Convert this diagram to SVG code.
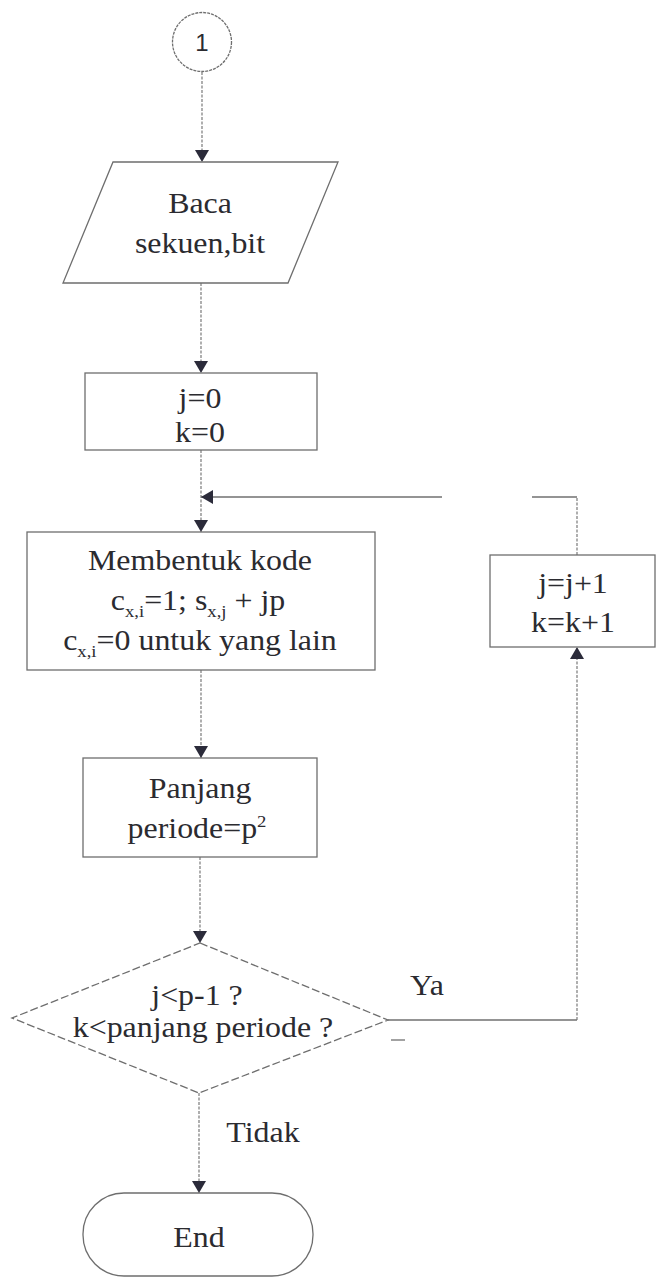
<svg xmlns="http://www.w3.org/2000/svg" width="657" height="1283" viewBox="0 0 657 1283">
  <style>
    .shape { fill: #ffffff; stroke: #6e6e6e; stroke-width: 1.3; }
    .dash { stroke-dasharray: 8 3; }
    .conn { fill: none; stroke: #7a7a7a; stroke-width: 1.2; stroke-dasharray: 3 1.5; }
    .line { fill: none; stroke: #707070; stroke-width: 1.3; }
    .t { font-family: "Liberation Serif", "Times New Roman", serif; font-size: 29px; fill: #2b2b30; text-anchor: middle; }
    .sub { font-size: 17px; }
    .num { font-family: "Liberation Sans", Arial, sans-serif; font-size: 24px; fill: #2b2b30; text-anchor: middle; }
  </style>
  <defs>
    <marker id="arrow" viewBox="0 0 12 14" refX="12" refY="7" markerWidth="12" markerHeight="14" markerUnits="userSpaceOnUse" orient="auto">
      <path d="M0 0 L12 7 L0 14 Z" fill="#2b2b3a"/>
    </marker>
  </defs>

  <rect width="657" height="1283" fill="#ffffff"/>

  <!-- connectors -->
  <g id="connectors">
    <path class="conn" d="M202 72 V162" marker-end="url(#arrow)"/>
    <path class="conn" d="M201 283 V373" marker-end="url(#arrow)"/>
    <path class="conn" d="M201 450 V532" marker-end="url(#arrow)"/>
    <path class="conn" d="M201 670 V758" marker-end="url(#arrow)"/>
    <path class="conn" d="M200 857 V943" marker-end="url(#arrow)"/>
    <path class="conn" d="M199 1093 V1193" marker-end="url(#arrow)"/>
    <!-- loop back: decision "Ya" up to increment box, then back into the main flow -->
    <path class="line" d="M388 1020 H577"/>
    <path class="conn" d="M577 1020 V647" marker-end="url(#arrow)"/>
    <path class="conn" d="M577 555 V497"/>
    <path class="line" d="M577 497 H532"/>
    <path class="line" d="M442 497 H201" marker-end="url(#arrow)"/>
    <path class="line" d="M391 1040 H405"/>
  </g>

  <!-- connector 1 -->
  <g id="start">
    <circle class="shape" cx="202" cy="42" r="29.5" stroke-dasharray="3 1"/>
    <text class="num" x="202" y="51">1</text>
  </g>

  <!-- input: Baca sekuen,bit -->
  <g id="input">
    <path class="shape" d="M113 162 H338 L288 283 H63 Z"/>
    <text class="t" transform="translate(200 213) scale(1.1 1)">Baca</text>
    <text class="t" transform="translate(200 253) scale(1.1 1)">sekuen,bit</text>
  </g>

  <!-- init j, k -->
  <g id="init">
    <rect class="shape" x="85" y="373" width="232" height="77"/>
    <text class="t" transform="translate(200 408) scale(1.1 1)">j=0</text>
    <text class="t" transform="translate(200 442) scale(1.1 1)">k=0</text>
  </g>

  <!-- build code -->
  <g id="build">
    <rect class="shape" x="27" y="532" width="348" height="138"/>
    <text class="t" transform="translate(200 570) scale(1.1 1)">Membentuk kode</text>
    <text class="t" transform="translate(198 610) scale(1.1 1)">c<tspan class="sub" dy="7">x,i</tspan><tspan dy="-7">=1; s</tspan><tspan class="sub" dy="7">x,j</tspan><tspan dy="-7"> + jp</tspan></text>
    <text class="t" transform="translate(200 650) scale(1.1 1)">c<tspan class="sub" dy="7">x,i</tspan><tspan dy="-7">=0 untuk yang lain</tspan></text>
  </g>

  <!-- period length -->
  <g id="period">
    <rect class="shape" x="83" y="758" width="234" height="99"/>
    <text class="t" transform="translate(200 798) scale(1.1 1)">Panjang</text>
    <text class="t" transform="translate(197 838) scale(1.1 1)">periode=p<tspan class="sub" dy="-11">2</tspan></text>
  </g>

  <!-- decision -->
  <g id="decision">
    <path class="shape dash" d="M200 943 L388 1020 L199 1093 L12 1018 Z"/>
    <text class="t" transform="translate(197 1005) scale(1.1 1)">j&lt;p-1 ?</text>
    <text class="t" transform="translate(203 1037) scale(1.1 1)">k&lt;panjang periode ?</text>
    <text class="t" transform="translate(427 995) scale(1.1 1)">Ya</text>
    <text class="t" transform="translate(263 1142) scale(1.1 1)">Tidak</text>
  </g>

  <!-- increment j, k -->
  <g id="increment">
    <rect class="shape" x="490" y="555" width="165" height="92"/>
    <text class="t" transform="translate(573 593) scale(1.1 1)">j=j+1</text>
    <text class="t" transform="translate(573 632) scale(1.1 1)">k=k+1</text>
  </g>

  <!-- terminator -->
  <g id="end">
    <rect class="shape" x="83" y="1193" width="230" height="83" rx="41" ry="41"/>
    <text class="t" transform="translate(199 1247) scale(1.1 1)">End</text>
  </g>
</svg>
